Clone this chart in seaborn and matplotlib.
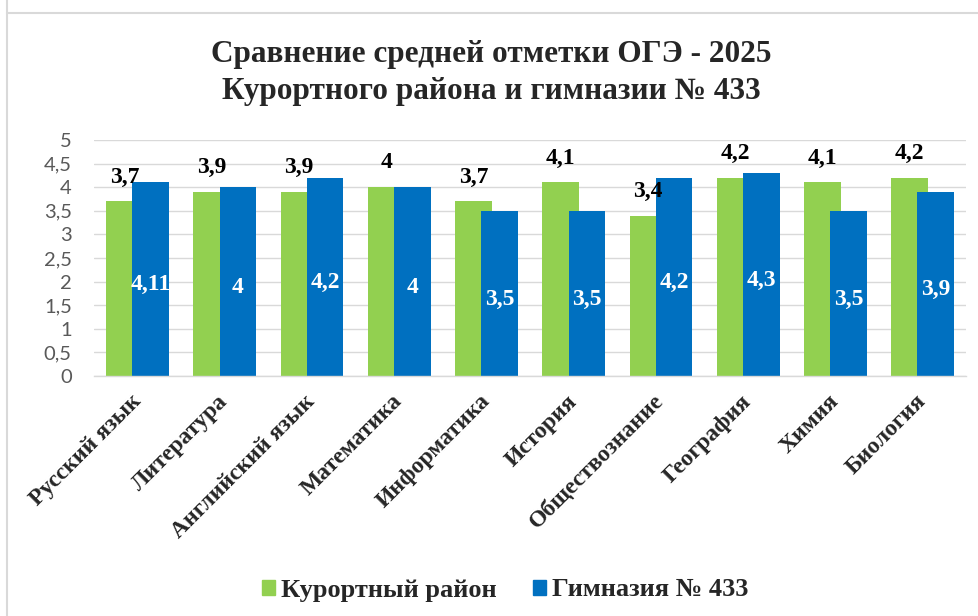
import pandas as pd
import matplotlib.pyplot as plt
import seaborn as sns
from matplotlib.lines import Line2D

# chart data
subjects = ['Русский язык', 'Литература', 'Английский язык', 'Математика',
            'Информатика', 'История', 'Обществознание', 'География',
            'Химия', 'Биология']
district = [3.7, 3.9, 3.9, 4.0, 3.7, 4.1, 3.4, 4.2, 4.1, 4.2]
gymnasium = [4.11, 4.0, 4.2, 4.0, 3.5, 3.5, 4.2, 4.3, 3.5, 3.9]
series_names = ['Курортный район', 'Гимназия № 433']
y_ticks = [0, 0.5, 1, 1.5, 2, 2.5, 3, 3.5, 4, 4.5, 5]

GREEN = '#92D050'
BLUE = '#0070C0'
SERIF = 'Liberation Serif'


def fmt(v):
    return f'{v:g}'.replace('.', ',')


df = pd.DataFrame({
    'subject': subjects * 2,
    'value': district + gymnasium,
    'series': [series_names[0]] * len(subjects) + [series_names[1]] * len(subjects),
})

sns.set_style('white')
fig = plt.figure(figsize=(9.79, 6.16), dpi=100)
ax = fig.add_axes([0.096, 0.3896, 0.891, 0.3831])

sns.barplot(data=df, x='subject', y='value', hue='series', order=subjects,
            hue_order=series_names, palette=[GREEN, BLUE], width=0.6,
            linewidth=0, saturation=1, legend=False, ax=ax)

# widen the bars so the blue ones overlap the green ones (Excel style)
new_w = 0.42
for cont in ax.containers:
    for bar in cont:
        cx = bar.get_x() + bar.get_width() / 2
        bar.set_width(new_w)
        bar.set_x(cx - new_w / 2)

# data labels
for bar, v in zip(ax.containers[0], district):
    cx = bar.get_x() + bar.get_width() / 2
    ax.annotate(fmt(v), (cx, v), xytext=(0, 13.5), textcoords='offset points',
                ha='center', va='baseline', fontsize=17, fontweight='bold',
                family=SERIF, color='black')
for bar, v in zip(ax.containers[1], gymnasium):
    cx = bar.get_x() + bar.get_width() / 2
    ax.annotate(fmt(v), (cx, v / 2), xytext=(0, -4), textcoords='offset points',
                ha='center', va='center', fontsize=17, fontweight='bold',
                family=SERIF, color='white')

ax.set_ylim(0, 5)
ax.set_xlim(-0.5, len(subjects) - 0.5)
ax.set_yticks(y_ticks)
ax.set_yticklabels([fmt(t) for t in y_ticks], fontsize=14.5, color='#595959',
                   family='Lato')
ax.tick_params(axis='y', length=0, pad=16)
ax.tick_params(axis='x', length=0, pad=16)
ax.set_xticks(range(len(subjects)))
ax.set_xticklabels(subjects, rotation=45, ha='right', va='center',
                   rotation_mode='anchor', fontsize=17, fontweight='bold',
                   family=SERIF)
ax.set_xlabel('')
ax.set_ylabel('')
ax.grid(axis='y', color='#D9D9D9', linewidth=1)
ax.set_axisbelow(True)
for side in ['left', 'right', 'top']:
    ax.spines[side].set_visible(False)
ax.spines['bottom'].set_color('#D9D9D9')
ax.spines['bottom'].set_linewidth(1)

fig.text(0.5015, 1 - 40 / 616,
         'Сравнение средней отметки ОГЭ - 2025\nКурортного района и гимназии № 433',
         ha='center', va='top', fontsize=22.5, fontweight='bold', family=SERIF,
         linespacing=1.37)

handles = [plt.Rectangle((0, 0), 1, 1, color=GREEN),
           plt.Rectangle((0, 0), 1, 1, color=BLUE)]
fig.legend(handles, series_names, loc='center', bbox_to_anchor=(505 / 979, 1 - 590 / 616),
           ncol=2, frameon=False, handlelength=0.5, handleheight=0.5,
           handletextpad=0.2, columnspacing=1.4,
           prop={'family': SERIF, 'weight': 'bold', 'size': 19})

# light frame of the chart area
fig.add_artist(Line2D([7 / 979, 1], [1 - 12.5 / 616, 1 - 12.5 / 616],
                      transform=fig.transFigure, color='#D9D9D9', linewidth=1.5))
fig.add_artist(Line2D([7 / 979, 7 / 979], [0, 1],
                      transform=fig.transFigure, color='#D9D9D9', linewidth=1.5))

fig.savefig('out.png', dpi=100)
